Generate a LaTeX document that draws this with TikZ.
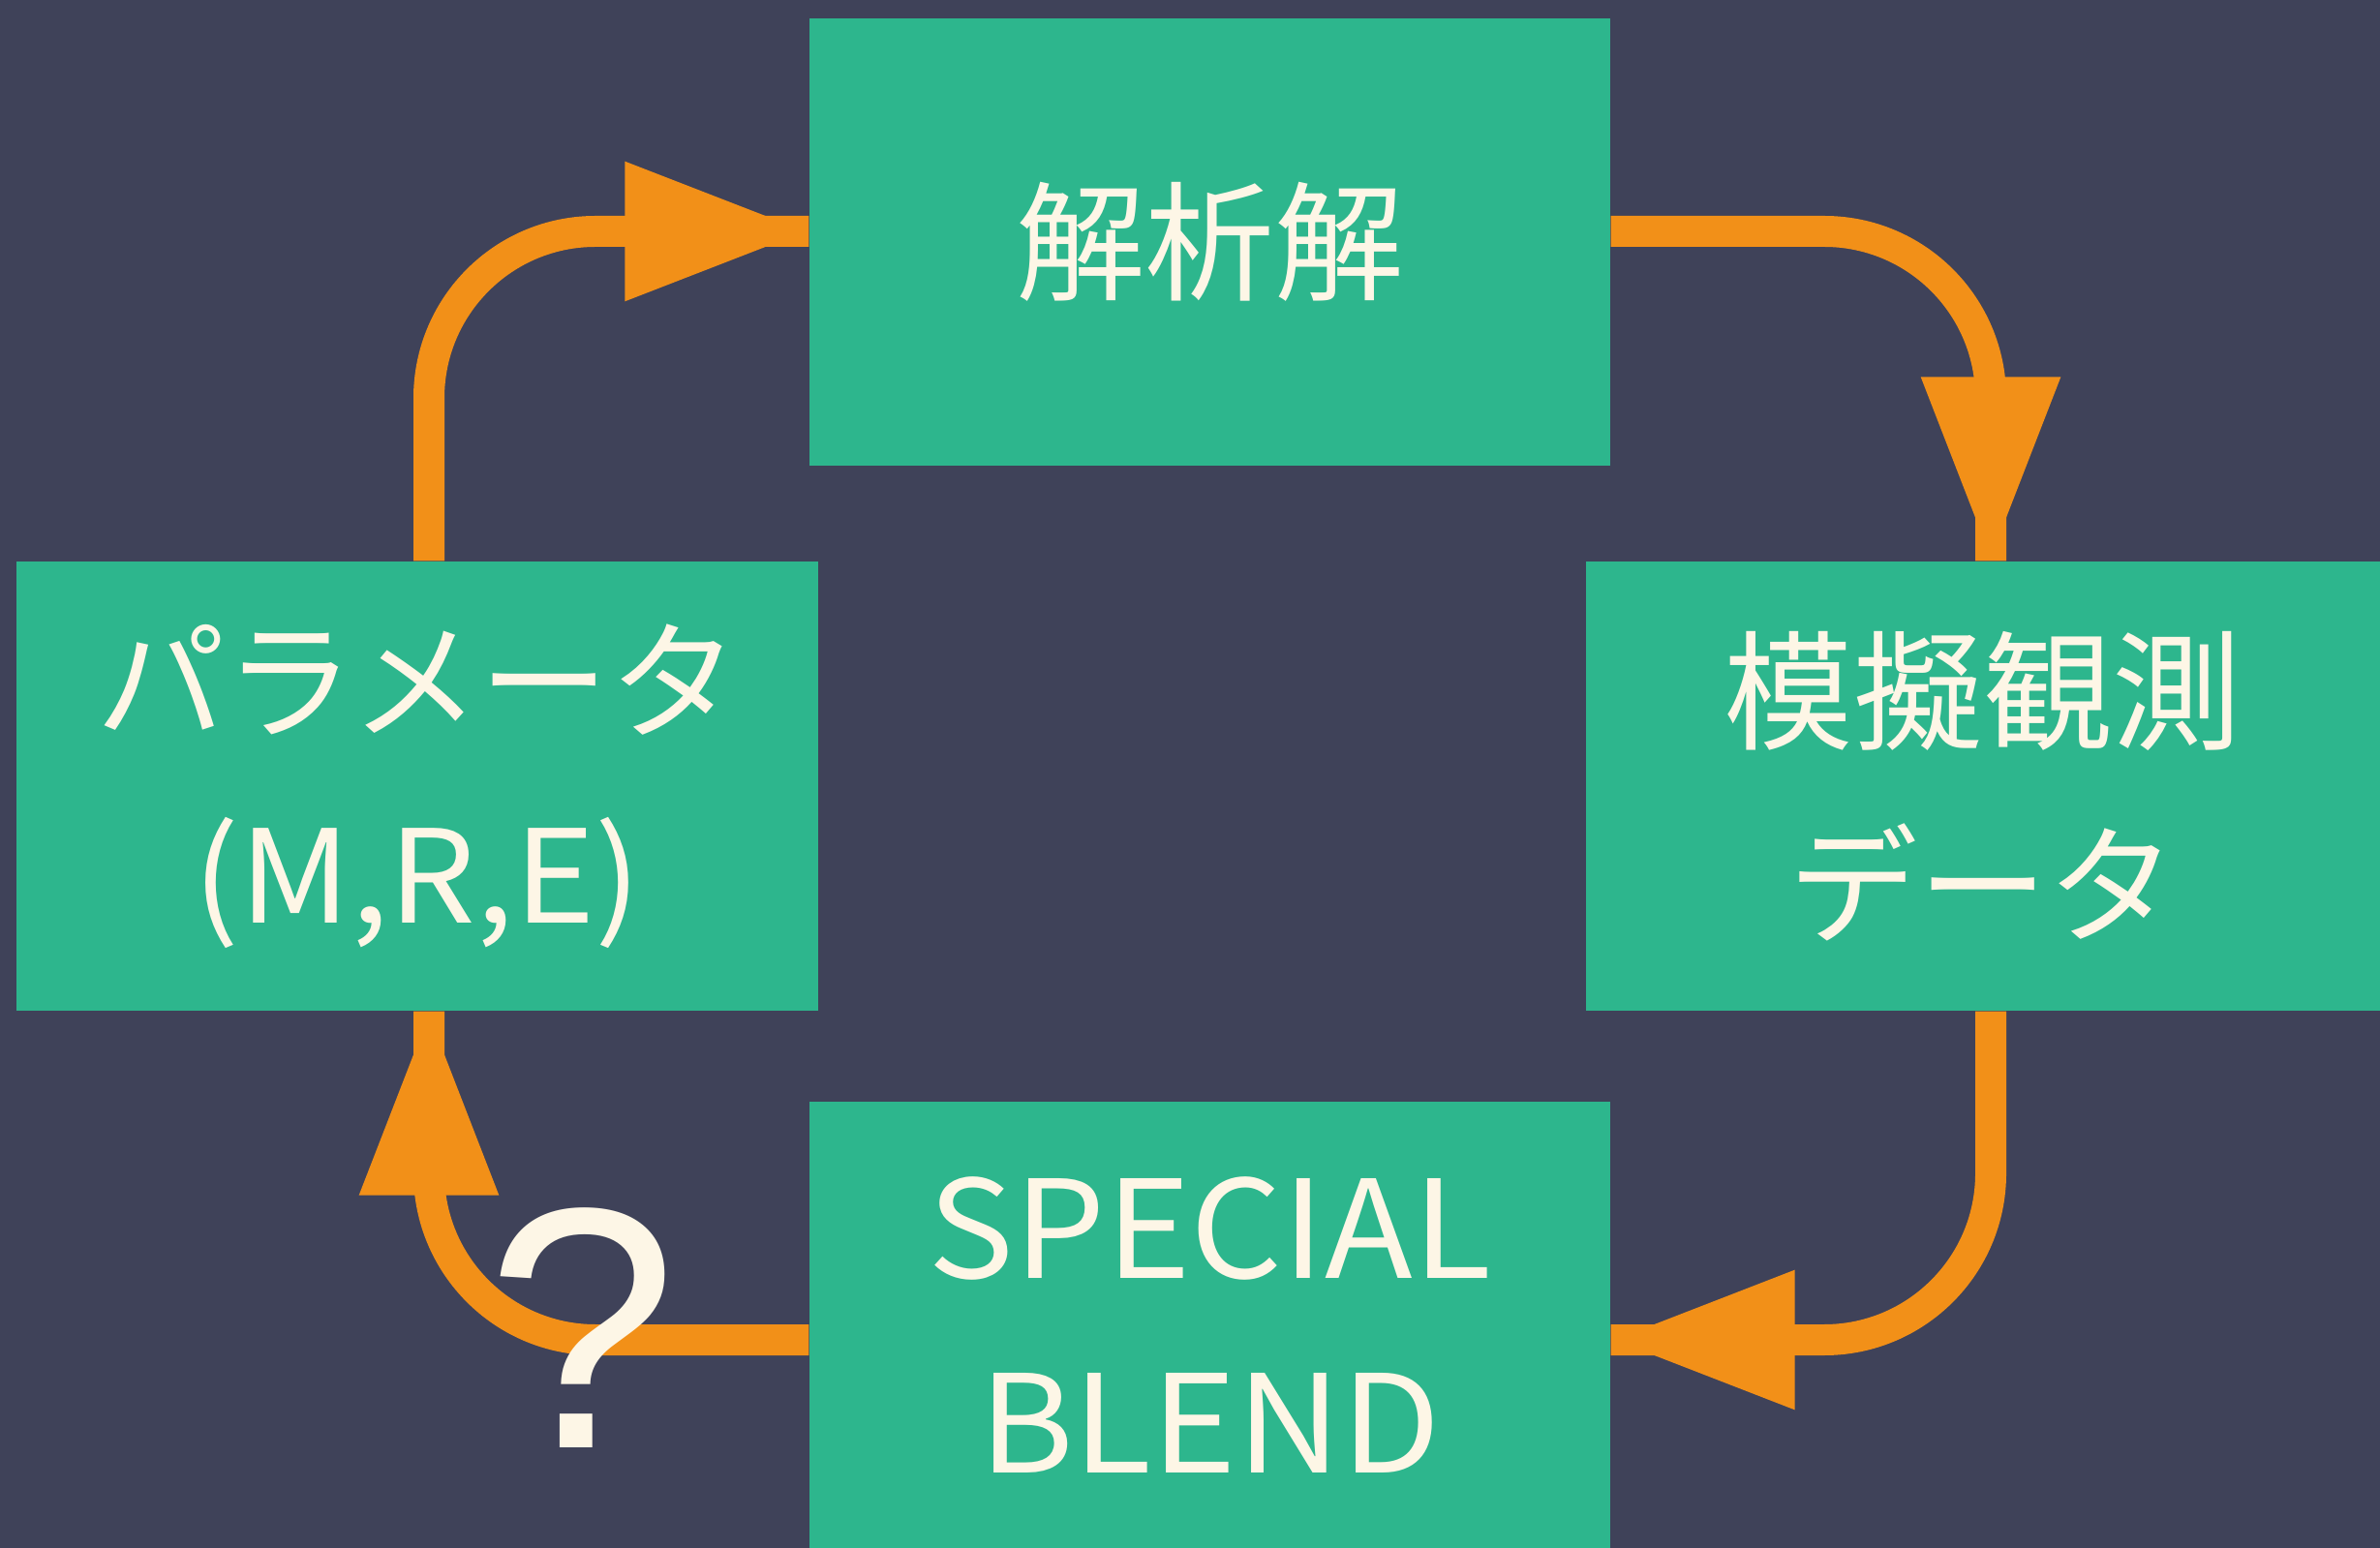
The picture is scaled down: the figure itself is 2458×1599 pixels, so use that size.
\documentclass[tikz,border=0pt]{standalone}
\usepackage{fontspec}
\setmainfont{Noto Sans CJK JP}
\newfontfamily\latinf[FakeStretch=1.06]{Noto Sans CJK JP}
\newfontfamily\qfont{Liberation Sans}
\usetikzlibrary{arrows.meta,decorations.markings}
\definecolor{bgc}{HTML}{3F4259}
\definecolor{boxc}{HTML}{2DB68D}
\definecolor{flowc}{HTML}{F29018}
\definecolor{txtc}{HTML}{FDF6E6}
\newcommand{\latintext}[2]{{\latinf\fontsize{#1}{57}\selectfont #2}}
\tikzset{
  box/.style={fill=boxc, draw=none, inner sep=0pt, text=txtc, align=center,
    font=\fontsize{38}{57}\selectfont},
  flow/.style={draw=flowc, line width=3.2mm, rounded corners=17.2mm,
    postaction={decorate},
    decoration={markings, mark=at position 1 with {\arrow[flowc]{Triangle[length=19mm,width=13.5mm]}}}},
  qmark/.style={text=txtc, inner sep=0pt, font=\qfont\fontsize{101}{110}\selectfont}
}
\begin{document}
\begin{tikzpicture}[x=0.1mm,y=-0.1mm]
\clip (0,0) rectangle (2458,1599);
\fill[bgc] (0,0) rectangle (2458,1599);
\useasboundingbox (0,0) rectangle (2458,1599);
\node[box, minimum width=82.7mm, minimum height=46.2mm] (T) at (1249.5,250) {解析解};
\node[box, minimum width=82.8mm, minimum height=46.4mm] (L) at (431,812) {パラメータ\\\latintext{38}{(M,R,E)}};
\node[box, minimum width=82.0mm, minimum height=46.4mm] (R) at (2048,812) {模擬観測\\データ};
\node[box, minimum width=82.7mm, minimum height=46.1mm] (B) at (1249.5,1368.5) {\latintext{40}{SPECIAL}\\\latintext{40}{BLEND}};
\draw[flow] ([xshift=1.2mm]L.north) |- ([yshift=1.1mm]T.west);
\draw[flow] ([yshift=1.1mm]T.east) -| ([xshift=0.8mm]R.north);
\draw[flow] ([xshift=0.8mm]R.south) |- ([yshift=-1.55mm]B.east);
\draw[flow] ([yshift=-1.55mm]B.west) -| ([xshift=1.2mm]L.south);
\node[qmark, anchor=base] (Q) at (601,1495) {?};
\end{tikzpicture}
\end{document}
